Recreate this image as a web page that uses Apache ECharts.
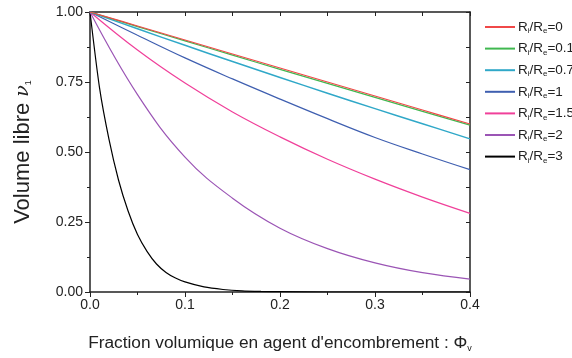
<!DOCTYPE html>
<html>
<head>
<meta charset="utf-8">
<script src="https://cdn.jsdelivr.net/npm/echarts@6/dist/echarts.min.js"></script>
<style>
html,body{margin:0;padding:0;background:#fff;}
#c{width:572px;height:358px;}
</style>
</head>
<body>
<div id="c"></div>
<script>
// Data
var phi = [0, 0.05, 0.1, 0.15, 0.2, 0.25, 0.3, 0.35, 0.4];
var vR0   = [1, 0.950, 0.900, 0.850, 0.800, 0.750, 0.700, 0.650, 0.600];
var vR01  = [1, 0.948, 0.897, 0.846, 0.795, 0.745, 0.695, 0.645, 0.596];
var vR07  = [1, 0.940, 0.881, 0.823, 0.766, 0.710, 0.655, 0.601, 0.547];
var vR1   = [1, 0.917, 0.836, 0.761, 0.689, 0.619, 0.552, 0.493, 0.437];
var vR15  = [1, 0.864, 0.746, 0.643, 0.554, 0.474, 0.403, 0.339, 0.281];
var vR2   = [1, 0.705, 0.482, 0.335, 0.228, 0.155, 0.104, 0.069, 0.046];
var phiB  = [0, 0.01, 0.02, 0.03, 0.04, 0.05, 0.06, 0.07, 0.08, 0.09, 0.1, 0.12, 0.14, 0.16, 0.18, 0.2, 0.25, 0.3, 0.35, 0.4];
var vR3   = [1, 0.73, 0.545, 0.40, 0.29, 0.205, 0.145, 0.10, 0.07, 0.05, 0.036, 0.018, 0.009, 0.004, 0.002, 0.001, 0, 0, 0, 0];
var ratios = ['0', '0.1', '0.7', '1', '1.5', '2', '3'];
var yTicks = ['0.00', '0.25', '0.50', '0.75', '1.00'];
var xTicks = ['0.0', '0.1', '0.2', '0.3', '0.4'];
var colors = ['#f04848', '#40b850', '#30a8c8', '#3f5fb0', '#f0409a', '#9b55b5', '#000000'];

function pairs(xs, ys) { return xs.map(function (x, i) { return [x, ys[i]]; }); }
var allData = [
  pairs(phi, vR0), pairs(phi, vR01), pairs(phi, vR07), pairs(phi, vR1),
  pairs(phi, vR15), pairs(phi, vR2), pairs(phiB, vR3)
];
var names = ratios.map(function (r) { return 'R=' + r; });

var FONT = 'Liberation Sans, Arial, sans-serif';
var chart = echarts.init(document.getElementById('c'), null, { renderer: 'canvas' });

var series = allData.map(function (d, i) {
  return {
    name: names[i], type: 'line', data: d, xAxisIndex: 0, yAxisIndex: 0,
    showSymbol: false, symbol: 'none', smooth: i === 6 ? 0.25 : 0.4,
    lineStyle: { color: colors[i], width: i === 2 ? 1.5 : 1.2 },
    itemStyle: { color: colors[i] }, z: 10 - i, animation: false
  };
});

var axisLineStyle = { color: '#222', width: 1.5 };
chart.setOption({
  animation: false,
  color: colors,
  grid: { left: 90, right: 102, top: 12, bottom: 66, containLabel: false },
  legend: {
    orient: 'vertical', left: 480, top: 14,
    itemWidth: 30, itemHeight: 2, itemGap: 5.6, icon: 'rect',
    data: names,
    formatter: function (n) {
      var r = n.split('=')[1];
      return '{n|R}{s|i}{n|/R}{s|e}{n|=' + r + '}';
    },
    textStyle: {
      fontFamily: FONT, fontSize: 13, color: '#222', padding: [0, 0, 0, -2],
      rich: {
        n: { fontFamily: FONT, fontSize: 13.5, color: '#222', lineHeight: 16 },
        s: { fontFamily: FONT, fontSize: 8, color: '#222', verticalAlign: 'bottom', lineHeight: 10, padding: [8, 0, 0, 0] }
      }
    }
  },
  xAxis: [{
    type: 'value', min: 0, max: 0.4, interval: 0.1, position: 'bottom',
    name: '{t|Fraction volumique en agent d\'encombrement : Φ}{s|v}',
    nameLocation: 'middle', nameGap: 41,
    nameTextStyle: {
      rich: {
        t: { fontFamily: FONT, fontSize: 17.3, color: '#222' },
        s: { fontFamily: FONT, fontSize: 9, color: '#222', padding: [11, 0, 0, 0] }
      }
    },
    axisLine: { show: true, onZero: false, lineStyle: axisLineStyle },
    axisTick: { show: true, inside: false, length: 5, lineStyle: { color: '#222' } },
    minorTick: { show: true, splitNumber: 2, length: 3, lineStyle: { color: '#222' } },
    splitLine: { show: false },
    axisLabel: {
      fontFamily: FONT, fontSize: 14, color: '#222', margin: 6,
      formatter: function (v) { return xTicks[Math.round(v * 10)]; }
    }
  }, {
    type: 'value', min: 0, max: 0.4, interval: 0.05, position: 'top',
    axisLine: { show: true, onZero: false, lineStyle: axisLineStyle },
    axisTick: { show: true, inside: true, length: 4, lineStyle: { color: '#222' } },
    axisLabel: { show: false }, splitLine: { show: false }
  }],
  yAxis: [{
    type: 'value', min: 0, max: 1, interval: 0.25, position: 'left',
    name: '{t|Volume libre }{v|ν}{s|1}',
    nameLocation: 'middle', nameGap: 56, nameRotate: 90,
    nameTextStyle: {
      rich: {
        t: { fontFamily: FONT, fontSize: 22, color: '#222' },
        v: { fontFamily: 'DejaVu Serif, serif', fontStyle: 'italic', fontSize: 19, color: '#222' },
        s: { fontFamily: FONT, fontSize: 9, color: '#222', padding: [12, 0, 0, 0] }
      }
    },
    axisLine: { show: true, onZero: false, lineStyle: axisLineStyle },
    axisTick: { show: true, inside: false, length: 5, lineStyle: { color: '#222' } },
    minorTick: { show: true, splitNumber: 2, length: 3, lineStyle: { color: '#222' } },
    splitLine: { show: false },
    axisLabel: {
      fontFamily: FONT, fontSize: 14, color: '#222', margin: 7,
      formatter: function (v) { return yTicks[Math.round(v * 4)]; }
    }
  }, {
    type: 'value', min: 0, max: 1, interval: 0.125, position: 'right',
    axisLine: { show: true, onZero: false, lineStyle: axisLineStyle },
    axisTick: { show: true, inside: true, length: 4, lineStyle: { color: '#222' } },
    axisLabel: { show: false }, splitLine: { show: false }
  }],
  series: series
});
</script>
</body>
</html>
